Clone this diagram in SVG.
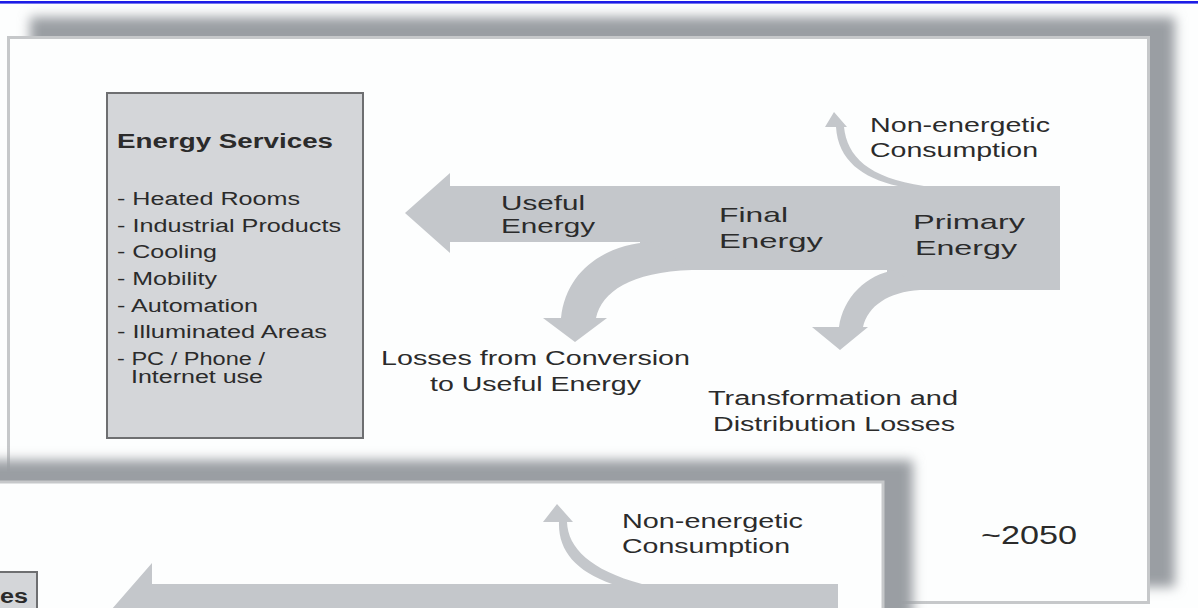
<svg xmlns="http://www.w3.org/2000/svg" width="1198" height="608" viewBox="0 0 1198 608">
  <defs>
    <filter id="soft" x="-10%" y="-20%" width="120%" height="140%">
      <feGaussianBlur stdDeviation="6"/>
    </filter>
    <style>
      .t { font-family: "Liberation Sans", Arial, sans-serif; fill: #2b2b2b; }
      .s18 { font-size: 18px; }
      .s20 { font-size: 20px; }
      .s21 { font-size: 21px; }
      .s25 { font-size: 25px; }
      .b { font-weight: bold; }
      .flow { fill: #c4c7cb; stroke: none; }
      .shadow { fill: #9a9ea3; filter: url(#soft); }
      .panel { fill: #fdfefe; stroke: #c6c8ca; stroke-width: 3; }
      .box { fill: #d4d6d9; stroke: #6e6f71; stroke-width: 2; }
    </style>
  </defs>

  <rect x="0" y="0" width="1198" height="608" fill="#fdfefe"/>
  <rect x="0" y="1" width="1198" height="2.6" fill="#1c1ce6"/>

  <!-- back panel (~2050) -->
  <g id="panel-back">
    <rect class="shadow" x="30" y="17" width="1145" height="570"/>
    <rect class="panel" x="8.5" y="37.5" width="1140" height="565"/>
  </g>

  <!-- front panel -->
  <g id="panel-front">
    <rect class="shadow" x="-40" y="460" width="953" height="220"/>
    <rect class="panel" x="-10" y="482" width="893" height="150" stroke-width="2"/>
  </g>

  <g id="connectors">
    <!-- main flow: primary -> final -> useful -->
    <path class="flow" d="M405 213 L450 173 L450 186 L1060 186 L1060 290 L887 290 L887 270 L640 270 L640 242 L450 242 L450 253 Z"/>
    <!-- losses from conversion to useful energy -->
    <path class="flow" d="M652 242 C606 244 566 270 561 318 L543 318 L575 342 L607 318 L596 318 C602 292 630 272 692 270 Z"/>
    <!-- transformation and distribution losses -->
    <path class="flow" d="M896 270 C866 274 843 298 839 327 L812 327 L840 350 L868 327 L863 327 C868 306 888 292 920 290 Z"/>
    <!-- non-energetic consumption (back) -->
    <path class="flow" d="M898 186 C862 178 838 160 836 127 L825 127 L834 112 L847 127 L844 127 C847 156 868 178 924 186 Z"/>
    <!-- front panel flow -->
    <path class="flow" d="M98 625 L152 563 L152 584 L838 584 L838 625 Z"/>
    <path class="flow" d="M612 584 C575 571 558 550 559 522 L543 522 L557 504 L573 522 L567 522 C568 548 590 570 642 584 Z"/>
  </g>

  <g id="node-energy-services">
    <rect class="box" x="107" y="93" width="256" height="345"/>
    <text class="t s20 b" x="117" y="148" textLength="216" lengthAdjust="spacingAndGlyphs">Energy Services</text>
    <text class="t s18" x="117" y="205" textLength="183" lengthAdjust="spacingAndGlyphs">- Heated Rooms</text>
    <text class="t s18" x="117" y="232" textLength="224" lengthAdjust="spacingAndGlyphs">- Industrial Products</text>
    <text class="t s18" x="117" y="258" textLength="100" lengthAdjust="spacingAndGlyphs">- Cooling</text>
    <text class="t s18" x="117" y="285" textLength="100" lengthAdjust="spacingAndGlyphs">- Mobility</text>
    <text class="t s18" x="117" y="312" textLength="141" lengthAdjust="spacingAndGlyphs">- Automation</text>
    <text class="t s18" x="117" y="338" textLength="210" lengthAdjust="spacingAndGlyphs">- Illuminated Areas</text>
    <text class="t s18" x="117" y="365" textLength="148" lengthAdjust="spacingAndGlyphs">- PC / Phone /</text>
    <text class="t s18" x="131" y="383" textLength="132" lengthAdjust="spacingAndGlyphs">Internet use</text>
  </g>

  <g id="node-useful-energy">
    <text class="t s21" x="501" y="210" textLength="84" lengthAdjust="spacingAndGlyphs">Useful</text>
    <text class="t s21" x="501" y="233" textLength="94" lengthAdjust="spacingAndGlyphs">Energy</text>
  </g>

  <g id="node-final-energy">
    <text class="t s21" x="719" y="222" textLength="69" lengthAdjust="spacingAndGlyphs">Final</text>
    <text class="t s21" x="719" y="248" textLength="104" lengthAdjust="spacingAndGlyphs">Energy</text>
  </g>

  <g id="node-primary-energy">
    <text class="t s21" x="913" y="229" textLength="112" lengthAdjust="spacingAndGlyphs">Primary</text>
    <text class="t s21" x="915" y="255" textLength="102" lengthAdjust="spacingAndGlyphs">Energy</text>
  </g>

  <g id="node-non-energetic">
    <text class="t s20" x="870" y="132" textLength="180" lengthAdjust="spacingAndGlyphs">Non-energetic</text>
    <text class="t s20" x="870" y="157" textLength="168" lengthAdjust="spacingAndGlyphs">Consumption</text>
  </g>

  <g id="node-conversion-losses">
    <text class="t s20" x="381" y="365" textLength="309" lengthAdjust="spacingAndGlyphs">Losses from Conversion</text>
    <text class="t s20" x="430" y="391" textLength="211" lengthAdjust="spacingAndGlyphs">to Useful Energy</text>
  </g>

  <g id="node-transformation-losses">
    <text class="t s20" x="708" y="405" textLength="250" lengthAdjust="spacingAndGlyphs">Transformation and</text>
    <text class="t s20" x="713" y="431" textLength="242" lengthAdjust="spacingAndGlyphs">Distribution Losses</text>
  </g>

  <g id="node-year">
    <text class="t s25" x="981" y="544" textLength="96" lengthAdjust="spacingAndGlyphs">~2050</text>
  </g>

  <g id="node-front-non-energetic">
    <text class="t s20" x="622" y="528" textLength="181" lengthAdjust="spacingAndGlyphs">Non-energetic</text>
    <text class="t s20" x="622" y="553" textLength="168" lengthAdjust="spacingAndGlyphs">Consumption</text>
  </g>

  <g id="node-front-energy-services">
    <rect class="box" x="-10" y="572" width="47" height="60"/>
    <text class="t s20 b" x="0" y="603" textLength="28" lengthAdjust="spacingAndGlyphs">es</text>
  </g>
</svg>
